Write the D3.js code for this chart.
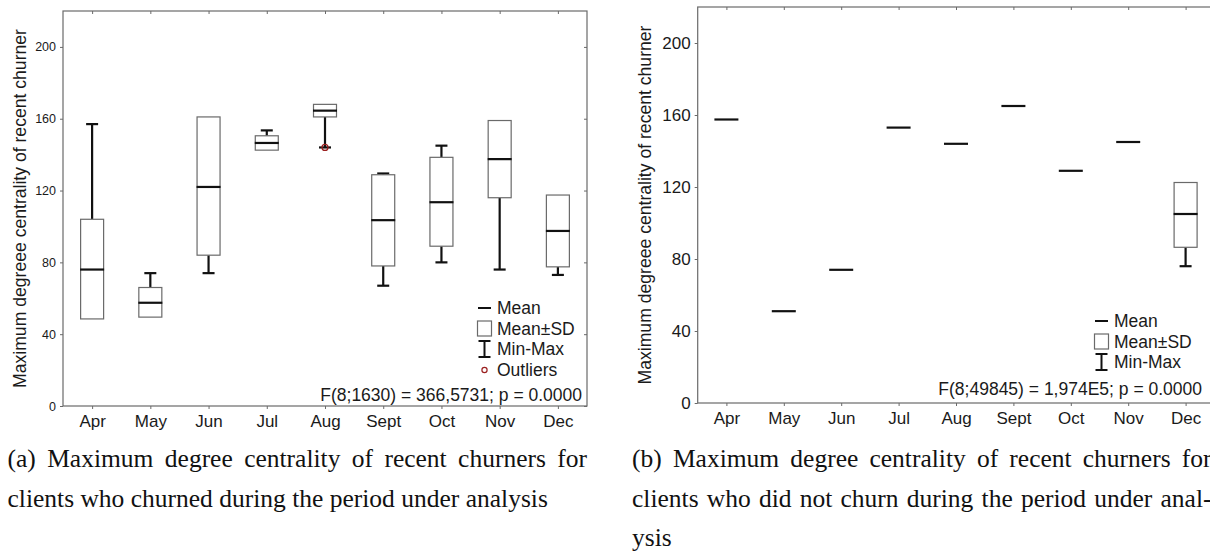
<!DOCTYPE html>
<html lang="en">
<head>
<meta charset="UTF-8">
<script src="https://d3js.org/d3.v7.min.js"></script>
<title>Maximum degree centrality of recent churners</title>
<style>
    body { margin: 0; background: #fff; }
    svg text { font-family: "Liberation Sans", Arial, sans-serif; fill: #1a1a1a; }
    svg .caption { font-family: "Liberation Serif", "Times New Roman", serif; font-size: 25.5px; fill: #111; }
</style>
</head>
<body>
<svg width="1210" height="553"></svg>
<script>
var months = ["Apr", "May", "Jun", "Jul", "Aug", "Sept", "Oct", "Nov", "Dec"];
var yTicks = [0, 40, 80, 120, 160, 200];
var yTitle = "Maximum degreee centrality of recent churner";

// (a) clients who churned
var meanA  = [76, 57.5, 122, 146.5, 164.5, 103.5, 113.5, 137.5, 97.5];
var sdLoA  = [48.5, 49.5, 84, 142.5, 161, 78, 89, 116, 77.5];
var sdHiA  = [104, 66, 161, 150.5, 168, 128.8, 138.5, 159, 117.5];
var minA   = [48.5, 49.5, 74, 142.5, 144, 67, 80, 76, 73];
var maxA   = [157, 74, 161, 153.5, 168, 129.5, 145, 159, 117.5];
var outA   = [null, null, null, null, 144, null, null, null, null];
var statA  = "F(8;1630) = 366,5731; p = 0.0000";

// (b) clients who did not churn
var meanB  = [157.5, 51, 74, 153, 144, 165, 129, 145, 105];
var sdLoB  = [157.5, 51, 74, 153, 144, 165, 129, 145, 86.5];
var sdHiB  = [157.5, 51, 74, 153, 144, 165, 129, 145, 122.5];
var minB   = [157.5, 51, 74, 153, 144, 165, 129, 145, 76];
var maxB   = [157.5, 51, 74, 153, 144, 165, 129, 145, 122.5];
var statB  = "F(8;49845) = 1,974E5; p = 0.0000";

var captionA = ["(a) Maximum degree centrality of recent churners for",
                "clients who churned during the period under analysis"];
var captionB = ["(b) Maximum degree centrality of recent churners for",
                "clients who did not churn during the period under anal-",
                "ysis"];

var svg = d3.select("svg");

function rows(mean, lo, hi, mn, mx, out) {
    return months.map(function (m, i) {
        return { m: m, mean: mean[i], lo: lo[i], hi: hi[i], min: mn[i], max: mx[i], out: out ? out[i] : null };
    });
}

function panel(p) {
    var x = d3.scalePoint().domain(months).range([p.x0, p.x1]).padding(0.5);
    var y = d3.scaleLinear().domain([0, 220]).range([p.y0, p.y1]);
    var g = svg.append("g");

    // frame
    g.append("rect")
        .attr("x", p.x0).attr("y", p.y1)
        .attr("width", p.x1 - p.x0).attr("height", p.y0 - p.y1)
        .attr("fill", "none").attr("stroke", "#6a6a6a").attr("stroke-width", 1.2);

    var yAxis = g.append("g")
        .attr("transform", "translate(" + p.x0 + ",0)")
        .call(d3.axisLeft(y).tickValues(yTicks).tickSize(3).tickPadding(p.yPad));
    yAxis.selectAll("text").style("font-size", p.yFont + "px");

    var xAxis = g.append("g")
        .attr("transform", "translate(0," + p.y0 + ")")
        .call(d3.axisBottom(x).tickSize(3).tickPadding(6));
    xAxis.selectAll("text").style("font-size", "17px");

    g.append("g").attr("transform", "translate(0," + p.y1 + ")")
        .call(d3.axisTop(x).tickSize(-3).tickFormat(""));
    g.append("g").attr("transform", "translate(" + p.x1 + ",0)")
        .call(d3.axisRight(y).tickValues(yTicks).tickSize(-3).tickFormat(""));

    g.selectAll(".domain").remove();
    g.selectAll(".tick line").attr("stroke", "#6a6a6a");

    svg.append("text")
        .attr("transform", "translate(" + p.titleX + "," + y(110) + ") rotate(-90)")
        .attr("text-anchor", "middle")
        .style("font-size", "17.6px")
        .text(yTitle);

    var cap = 6, half = 11.5;
    var items = g.selectAll(".item").data(p.data).enter().append("g");

    // whiskers
    items.filter(function (d) { return d.max > d.hi; }).append("line")
        .attr("x1", function (d) { return x(d.m); }).attr("x2", function (d) { return x(d.m); })
        .attr("y1", function (d) { return y(d.hi); }).attr("y2", function (d) { return y(d.max); })
        .attr("stroke", "#111").attr("stroke-width", 2.2);
    items.filter(function (d) { return d.min < d.lo; }).append("line")
        .attr("x1", function (d) { return x(d.m); }).attr("x2", function (d) { return x(d.m); })
        .attr("y1", function (d) { return y(d.lo); }).attr("y2", function (d) { return y(d.min); })
        .attr("stroke", "#111").attr("stroke-width", 2.2);
    items.filter(function (d) { return d.max > d.hi; }).append("line")
        .attr("x1", function (d) { return x(d.m) - cap; }).attr("x2", function (d) { return x(d.m) + cap; })
        .attr("y1", function (d) { return y(d.max); }).attr("y2", function (d) { return y(d.max); })
        .attr("stroke", "#111").attr("stroke-width", 2.2);
    items.filter(function (d) { return d.min < d.lo; }).append("line")
        .attr("x1", function (d) { return x(d.m) - cap; }).attr("x2", function (d) { return x(d.m) + cap; })
        .attr("y1", function (d) { return y(d.min); }).attr("y2", function (d) { return y(d.min); })
        .attr("stroke", "#111").attr("stroke-width", 2.2);

    // mean +- SD boxes
    items.filter(function (d) { return d.hi > d.lo; }).append("rect")
        .attr("x", function (d) { return x(d.m) - half; })
        .attr("y", function (d) { return y(d.hi); })
        .attr("width", half * 2)
        .attr("height", function (d) { return y(d.lo) - y(d.hi); })
        .attr("fill", "#fff").attr("stroke", "#6a6a6a").attr("stroke-width", 1.2);

    // means
    items.append("line")
        .attr("x1", function (d) { return x(d.m) - half - 0.5; }).attr("x2", function (d) { return x(d.m) + half + 0.5; })
        .attr("y1", function (d) { return y(d.mean); }).attr("y2", function (d) { return y(d.mean); })
        .attr("stroke", "#111").attr("stroke-width", 2.2);

    // outliers
    items.filter(function (d) { return d.out != null; }).append("circle")
        .attr("cx", function (d) { return x(d.m); })
        .attr("cy", function (d) { return y(d.out); })
        .attr("r", 3).attr("fill", "none").attr("stroke", "#9b2020").attr("stroke-width", 1.3);

    // legend
    var lg = g.append("g").attr("transform", "translate(" + p.legX + "," + p.legY + ")");
    var labels = p.outliers ? ["Mean", "Mean\u00b1SD", "Min-Max", "Outliers"] : ["Mean", "Mean\u00b1SD", "Min-Max"];
    labels.forEach(function (t, i) {
        lg.append("text").attr("x", 20).attr("y", i * 20.6 + 6).style("font-size", "17.5px").text(t);
    });
    lg.append("line").attr("x1", 1).attr("x2", 14).attr("y1", 0).attr("y2", 0)
        .attr("stroke", "#111").attr("stroke-width", 2);
    lg.append("rect").attr("x", 0.5).attr("y", 13).attr("width", 14).attr("height", 15)
        .attr("fill", "none").attr("stroke", "#6a6a6a").attr("stroke-width", 1.2);
    lg.append("line").attr("x1", 7.5).attr("x2", 7.5).attr("y1", 33).attr("y2", 49)
        .attr("stroke", "#111").attr("stroke-width", 2);
    [33, 49].forEach(function (yy) {
        lg.append("line").attr("x1", 1.5).attr("x2", 13.5).attr("y1", yy).attr("y2", yy)
            .attr("stroke", "#111").attr("stroke-width", 2);
    });
    if (p.outliers) {
        lg.append("circle").attr("cx", 7.5).attr("cy", 62).attr("r", 2.6)
            .attr("fill", "none").attr("stroke", "#9b2020").attr("stroke-width", 1.2);
    }

    g.append("text").attr("x", p.statX).attr("y", p.statY)
        .attr("text-anchor", "end").style("font-size", "17.5px").text(p.stat);

    // caption, justified like the paper column
    p.caption.forEach(function (line, i) {
        var t = svg.append("text").attr("class", "caption")
            .attr("x", p.capX).attr("y", 467 + i * 39.5).text(line);
        if (i < p.caption.length - 1) {
            var spaces = line.split(" ").length - 1;
            var extra = (p.capW - t.node().getComputedTextLength()) / spaces;
            if (extra > 0) t.attr("word-spacing", extra);
        }
    });
}

panel({
    data: rows(meanA, sdLoA, sdHiA, minA, maxA, outA),
    x0: 63, x1: 587, y0: 406, y1: 11,
    yFont: 12.5, yPad: 4, titleX: 26,
    legX: 477, legY: 308, outliers: true,
    stat: statA, statX: 582, statY: 400.5,
    caption: captionA, capX: 7.5, capW: 579.5
});

panel({
    data: rows(meanB, sdLoB, sdHiB, minB, maxB, null),
    x0: 697.7, x1: 1214.3, y0: 403, y1: 7,
    yFont: 17, yPad: 4, titleX: 650.5,
    legX: 1094, legY: 321, outliers: false,
    stat: statB, statX: 1202, statY: 394.5,
    caption: captionB, capX: 632, capW: 579.5
});
</script>
</body>
</html>
